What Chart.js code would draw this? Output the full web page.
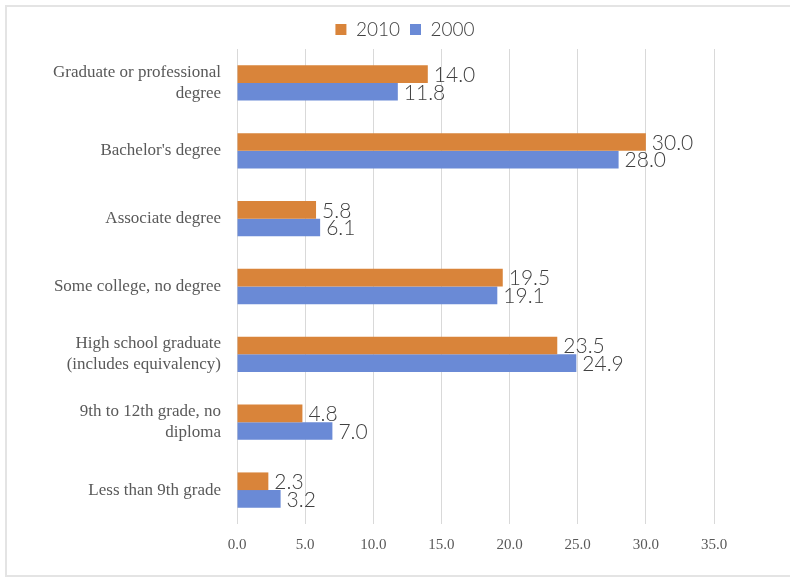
<!DOCTYPE html>
<html>
<head>
<meta charset="utf-8">
<script src="https://cdn.jsdelivr.net/npm/chart.js@4/dist/chart.umd.min.js"></script>
<style>
  html, body { margin: 0; padding: 0; background: #fff; }
  #wrap { position: relative; width: 790px; height: 577px; }
  #frame {
    position: absolute; left: 5px; top: 5px; width: 800px; height: 568px;
    border: 2px solid #e4e4e4; pointer-events: none;
  }
</style>
</head>
<body>
<div id="wrap">
  <canvas id="chart" width="790" height="577"></canvas>
  <div id="frame"></div>
</div>
<script>
// Educational attainment, percent of population
const categories = [
  ['Graduate or professional', 'degree'],
  "Bachelor's degree",
  'Associate degree',
  'Some college, no degree',
  ['High school graduate', '(includes equivalency)'],
  ['9th to 12th grade, no', 'diploma'],
  'Less than 9th grade'
];
const values2010 = [14.0, 30.0, 5.8, 19.5, 23.5, 4.8, 2.3];
const values2000 = [11.8, 28.0, 6.1, 19.1, 24.9, 7.0, 3.2];
const xTicks = [0, 5, 10, 15, 20, 25, 30, 35];

const ORANGE = '#D9843A';
const BLUE = '#6A8AD6';
const SERIF = "'Liberation Serif', 'DejaVu Serif', serif";
const SANS = "Lato, 'Liberation Sans', sans-serif";

// value labels at the end of each bar
const barValues = {
  id: 'barValues',
  afterDatasetsDraw(chart) {
    const ctx = chart.ctx;
    ctx.save();
    ctx.font = '300 21px ' + SANS;
    ctx.fillStyle = '#404040';
    ctx.textAlign = 'left';
    ctx.textBaseline = 'middle';
    chart.data.datasets.forEach((ds, i) => {
      chart.getDatasetMeta(i).data.forEach((bar, j) => {
        ctx.fillText(ds.data[j].toFixed(1), bar.x + 6, bar.y + 1);
      });
    });
    ctx.restore();
  }
};

new Chart(document.getElementById('chart'), {
  type: 'bar',
  data: {
    labels: categories,
    datasets: [
      { label: '2010', data: values2010, backgroundColor: ORANGE },
      { label: '2000', data: values2000, backgroundColor: BLUE }
    ]
  },
  options: {
    indexAxis: 'y',
    responsive: false,
    animation: false,
    layout: { padding: { top: 10, left: 20, right: 0, bottom: 10 } },
    datasets: { bar: { categoryPercentage: 0.52, barPercentage: 1.0 } },
    plugins: {
      tooltip: { enabled: false },
      legend: {
        position: 'top',
        labels: {
          boxWidth: 11,
          boxHeight: 11,
          padding: 10,
          color: '#404040',
          font: { family: SANS, size: 19, weight: 300 }
        }
      }
    },
    scales: {
      x: {
        min: 0,
        max: 35,
        afterBuildTicks: scale => { scale.ticks = xTicks.map(v => ({ value: v })); },
        afterFit: scale => { scale.height = 43; },
        grid: { color: '#d9d9d9', drawTicks: false },
        border: { display: false },
        ticks: {
          padding: 12,
          color: '#595959',
          font: { family: SERIF, size: 15 },
          callback: v => v.toFixed(1)
        }
      },
      y: {
        afterFit: scale => { scale.width = 217; },
        grid: { display: false, drawTicks: false },
        border: { display: false },
        ticks: {
          padding: 16,
          color: '#595959',
          font: { family: SERIF, size: 17, lineHeight: 1.25 }
        }
      },
      // empty strip on the right so the plot ends at 35
      spacer: {
        axis: 'y',
        position: 'right',
        display: true,
        afterFit: scale => { scale.width = 76; },
        grid: { display: false, drawTicks: false },
        border: { display: false },
        ticks: { display: false }
      }
    }
  },
  plugins: [barValues]
});
</script>
</body>
</html>
